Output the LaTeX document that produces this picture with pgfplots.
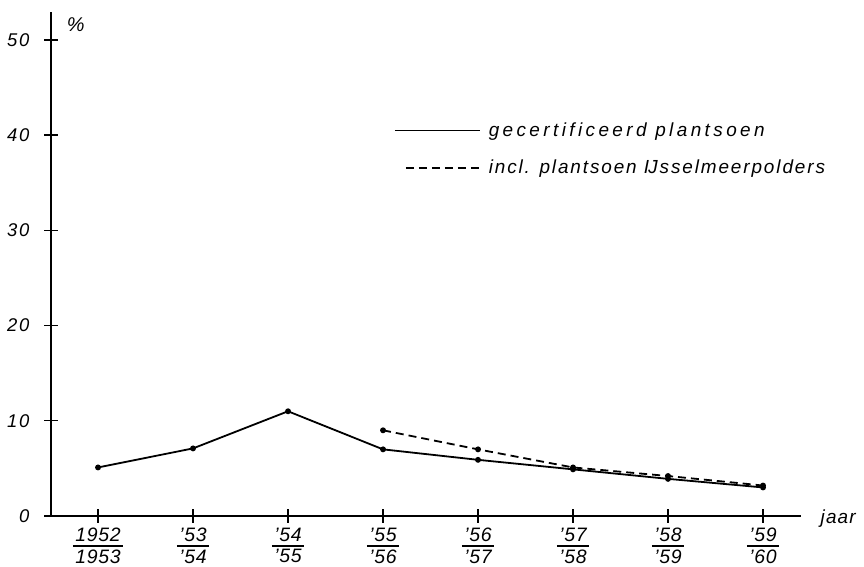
\documentclass[border=0pt]{standalone}
\usepackage{fontspec}
\setmainfont{Liberation Sans}
\usepackage{pgfplots}
\pgfplotsset{compat=1.18}
\pgfplotsset{
  solidlegend/.style={legend image code/.code={\draw[##1] (0bp,0bp) -- (85bp,0bp); \path (91bp,0bp);}},
  dashlegend/.style={legend image code/.code={\draw[##1] (11bp,0bp) -- (85bp,0bp); \path (0bp,0bp) (91bp,0bp);}},
}
\newcommand\fr[2]{\vbox{\halign{\hfil\hskip2.5bp##\hskip2.5bp\hfil\cr #1\cr\noalign{\kern3bp\hrule height 1.8bp\kern3bp}#2\cr}}}
\begin{document}
\begin{tikzpicture}
\useasboundingbox (0,0) rectangle (864bp,567bp);
\begin{axis}[
  at={(51bp,51bp)}, anchor=south west,
  x=95bp, y=9.52bp,
  xmin=-0.495, xmax=7.4, ymin=0, ymax=52.9,
  axis lines=left,
  axis line style={-, line width=2.2bp, black},
  xtick={0,...,7},
  xticklabels={\fr{1952}{1953},\fr{’53}{’54},\fr{’54}{’55},\fr{’55}{’56},\fr{’56}{’57},\fr{’57}{’58},\fr{’58}{’59},\fr{’59}{’60}},
  ytick={0,10,20,30,40,50},
  yticklabels={0,10,20,30,40,50},
  tick align=center, major tick length=14bp,
  tick style={line width=1.4bp, black},
  yticklabel style={font=\fontsize{18.5}{20}\selectfont\itshape\addfontfeatures{LetterSpace=10}, xshift=-11bp},
  xticklabel style={font=\fontsize{19.5}{20}\selectfont\itshape\addfontfeatures{LetterSpace=4}, anchor=north, inner sep=0pt, yshift=-5bp},
  clip=false,
  legend style={draw=none, fill=none, at={(0.457,0.785)}, anchor=north west,
     inner sep=0pt, row sep=18bp,
     font=\fontsize{19}{21}\selectfont\itshape},
  legend cell align=left,
]
\addplot[black, line width=1.8bp, mark=*, mark size=2bp, solidlegend] coordinates {
  (0,5.1) (1,7.1) (2,11.0) (3,7.0) (4,5.9) (5,4.9) (6,3.9) (7,3.0)};
\addlegendentry{\addfontfeatures{LetterSpace=18}gecertificeerd plantsoen}
\addplot[black, line width=1.8bp, dash pattern=on 8bp off 5bp, mark=*, mark size=2bp, mark options={solid}, dashlegend] coordinates {
  (3,9.0) (4,7.0) (5,5.1) (6,4.2) (7,3.2)};
\addlegendentry{\addfontfeatures{LetterSpace=10}incl. plantsoen Ĳsselmeerpolders}
\node[font=\fontsize{20}{22}\selectfont\itshape] at (axis cs:-0.235,51.6) {\%};
\node[anchor=west, font=\fontsize{19}{20}\selectfont\itshape\addfontfeatures{LetterSpace=6}] at (axis cs:7.57,-0.3) {jaar};
\end{axis}
\end{tikzpicture}
\end{document}
